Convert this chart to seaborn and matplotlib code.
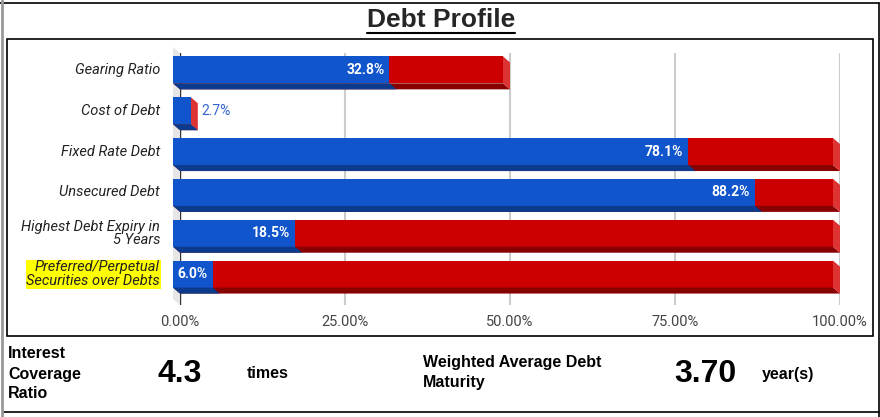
import matplotlib
matplotlib.use("Agg")
import matplotlib.pyplot as plt
import matplotlib.transforms as mtransforms
from matplotlib.patches import Polygon, Rectangle
from matplotlib.lines import Line2D
import seaborn as sns
import pandas as pd

# Dane
categories = ["Gearing Ratio", "Cost of Debt", "Fixed Rate Debt", "Unsecured Debt",
              "Highest Debt Expiry in\n5 Years", "Preferred/Perpetual\nSecurities over Debts"]
actual = [32.8, 2.7, 78.1, 88.2, 18.5, 6.0]
remainder = [17.2, 0.0, 21.9, 11.8, 81.5, 94.0]
x_ticks = [0, 25, 50, 75, 100]
highlighted = "Preferred/Perpetual\nSecurities over Debts"

icr_value = "4.3"
wadm_value = "3.70"

# Kolory
BLUE, BLUE_DARK = "#1155cc", "#0c3b8e"
RED, RED_DARK, RED_SIDE = "#cc0000", "#880000", "#dd3333"

W, H = 880, 417
sns.set_style("white")
plt.rcParams["font.family"] = ["Roboto", "DejaVu Sans"]

fig = plt.figure(figsize=(W / 100, H / 100), dpi=100)


def fp(x, y):
    # piksele -> ułamek figury
    return x / W, 1 - y / H


ax = fig.add_axes([180 / W, 1 - 305 / H, 660 / W, 252 / H])

df = pd.DataFrame({"category": categories, "actual": actual,
                   "total": [a + r for a, r in zip(actual, remainder)]})

sns.barplot(data=df, x="total", y="category", color=RED, saturation=1,
            width=0.66, errorbar=None, linewidth=0, ax=ax)
n_red = len(ax.patches)
sns.barplot(data=df, x="actual", y="category", color=BLUE, saturation=1,
            width=0.66, errorbar=None, linewidth=0, ax=ax)

ax.set_xlim(0, 100)
ax.set_ylim(5.61, -0.56)

# przesunięcie 3D (7 px w lewo, 6 px w górę)
inv = ax.transData.inverted()
p0 = inv.transform((0, 0))
p1 = inv.transform((7, 6))
dx = p1[0] - p0[0]
dy = p0[1] - p1[1]

for i, p in enumerate(list(ax.patches)):
    x, y, w, h = p.get_x(), p.get_y(), p.get_width(), p.get_height()
    yb = y + h
    red = i < n_red
    z = 2 if red else 3
    ax.add_patch(Polygon([(x - dx, yb - dy), (x + w - dx, yb - dy), (x + w, yb), (x, yb)],
                         closed=True, color=RED_DARK if red else BLUE_DARK,
                         lw=0, zorder=z, clip_on=False))
    if red:
        ax.add_patch(Polygon([(x + w - dx, y - dy), (x + w, y), (x + w, yb), (x + w - dx, yb - dy)],
                             closed=True, color=RED_SIDE, lw=0, zorder=z, clip_on=False))
    p.set_xy((x - dx, y - dy))
    p.set_zorder(z)
    p.set_clip_on(False)

# ściana z lewej
y0, y1 = ax.get_ylim()
ax.add_patch(Polygon([(-dx, y1 - dy), (0, y1), (0, y0), (-dx, y0 - dy)], closed=True,
                     color="#e6e6e6", lw=0, zorder=0.5, clip_on=False))

ax.set_xticks(x_ticks)
ax.set_xticklabels([f"{t:.2f}%" for t in x_ticks], fontsize=10.5, color="#444444")
ax.tick_params(axis="x", length=0, pad=7)
ax.xaxis.grid(True, color="#cccccc", lw=1.5)
ax.set_axisbelow(True)
ax.axvline(0, color="#333333", lw=1, zorder=1)
ax.set_yticks(range(len(categories)))
ax.set_yticklabels([])
ax.tick_params(axis="y", length=0)
ax.set_xlabel("")
ax.set_ylabel("")
for s in ax.spines.values():
    s.set_visible(False)

# etykiety kategorii (wyrównane do przedniej ściany słupka)
lab_tr = ax.transData + mtransforms.ScaledTranslation(-20 / 100, 6 / 100, fig.dpi_scale_trans)
for i, c in enumerate(categories):
    t = ax.text(0, i, c, transform=lab_tr, ha="right", va="center", fontsize=10.5,
                style="italic", color="#222222", linespacing=0.95)
    if c == highlighted:
        t.set_bbox(dict(facecolor="#ffff00", edgecolor="none", pad=0.5))

# etykiety wartości
in_tr = ax.transData + mtransforms.ScaledTranslation(-12 / 100, 6 / 100, fig.dpi_scale_trans)
out_tr = ax.transData + mtransforms.ScaledTranslation(4 / 100, 6 / 100, fig.dpi_scale_trans)
for i, v in enumerate(actual):
    if v >= 5:
        ax.text(v, i, f"{v:.1f}%", transform=in_tr, ha="right", va="center",
                fontsize=10, color="white", fontweight="bold", zorder=5)
    else:
        ax.text(v, i, f"{v:.1f}%", transform=out_tr, ha="left", va="center",
                fontsize=10, color="#3366cc", zorder=5)

# tytuł z podkreśleniem
title = fig.text(*fp(441, 20), "Debt Profile", ha="center", va="center",
                 fontsize=19, fontweight="bold", family=["Liberation Sans", "DejaVu Sans"])
fig.canvas.draw()
bb = title.get_window_extent().transformed(fig.transFigure.inverted())
fig.add_artist(Line2D([bb.x0, bb.x1], [fp(0, 33)[1]] * 2, color="black", lw=1.5))

# ramki
fig.add_artist(Rectangle(fp(7, 336), 866 / W, 297 / H, fill=False, ec="black", lw=1.2))
fig.add_artist(Line2D([0, 879 / W], [fp(0, 3)[1]] * 2, color="black", lw=1.2))
fig.add_artist(Line2D([879 / W] * 2, [0, fp(0, 3)[1]], color="black", lw=1.2))
fig.add_artist(Line2D([3 / W, 879 / W], [fp(0, 412)[1]] * 2, color="black", lw=1.2))
fig.add_artist(Line2D([1.5 / W] * 2, [0, 1], color="#999999", lw=2))

# dolna sekcja
bold = dict(fontweight="bold", family=["Liberation Sans", "DejaVu Sans"], color="black")
for yy, s in zip([354, 374, 393], ["Interest", "Coverage", "Ratio"]):
    fig.text(*fp(8, yy), s, ha="left", va="center", fontsize=11.5, **bold)
fig.text(*fp(180, 374), icr_value, ha="center", va="center", fontsize=23, **bold)
fig.text(*fp(247, 373), "times", ha="left", va="center", fontsize=11.5, **bold)
fig.text(*fp(423, 363), "Weighted Average Debt", ha="left", va="center", fontsize=11.5, **bold)
fig.text(*fp(423, 383), "Maturity", ha="left", va="center", fontsize=11.5, **bold)
fig.text(*fp(705, 374), wadm_value, ha="center", va="center", fontsize=23, **bold)
fig.text(*fp(762, 374), "year(s)", ha="left", va="center", fontsize=11.5, **bold)

fig.savefig("out.png", dpi=100)
